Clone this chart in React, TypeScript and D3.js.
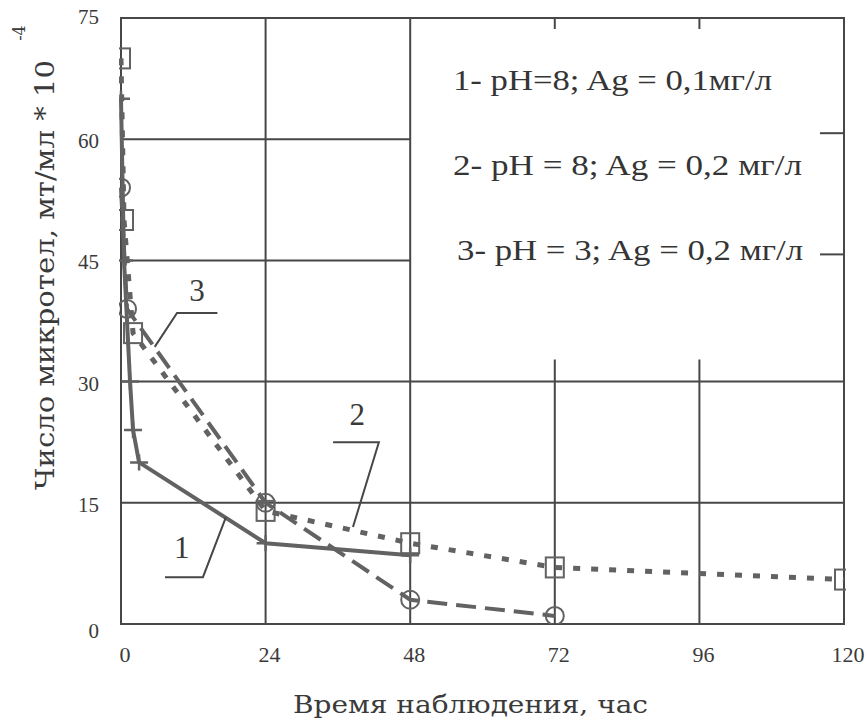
import React, { useEffect, useRef } from "react"
import * as d3 from "d3"

// часы наблюдения (ось X) и деления оси Y
const hourTicks = [0, 24, 48, 72, 96, 120]
const countTicks = [0, 15, 30, 45, 60, 75]

// [час, число микротел *10^-4]
const series1 = [[0, 65], [0.5, 45], [1.5, 30], [2, 24], [3, 20], [24, 10], [48, 8.5]]
const series2 = [[0, 70], [0.5, 50], [2, 36], [24, 14], [48, 10], [72, 7], [120, 5.5]]
const series3 = [[0, 54], [1, 39], [24, 15], [48, 3], [72, 1]]

const legendLines = ["1- pH=8; Ag = 0,1мг/л", "2- pH = 8; Ag = 0,2  мг/л", "3- pH = 3; Ag = 0,2  мг/л"]
const legendWidths = [319, 349, 346]

// подписи кривых с выносками (в координатах графика)
const curveLabels = [
    { text: "1", at: [10.1, 8.2], leader: [[7.3, 5.8], [13.6, 5.8], [17.4, 13.2]] },
    { text: "2", at: [39.2, 24.6], leader: [[35.2, 22.5], [42.8, 22.5], [38.5, 12]] },
    { text: "3", at: [12.6, 40], leader: [[16, 38.5], [9.3, 38.5], [5.6, 34.3]] },
]

const ink = "#474747"
const lineInk = "#626262"
const serif = "'Liberation Serif', 'DejaVu Serif', 'Times New Roman', serif"
const slab = "'DejaVu Serif', 'Liberation Serif', serif"

export default function App() {
    const ref = useRef<SVGSVGElement>(null)

    useEffect(() => {
        const svg = d3.select(ref.current)
        svg.selectAll("*").remove()

        const x = d3.scaleLinear().domain([0, 120]).range([121, 844])
        const y = d3.scaleLinear().domain([0, 75]).range([624, 18])

        svg.append("rect").attr("width", 867).attr("height", 726).attr("fill", "#fff")

        svg.append("defs").append("clipPath").attr("id", "plot")
            .append("rect")
            .attr("x", x(0) - 2).attr("y", y(75)).attr("width", x(120) - x(0) + 4).attr("height", y(0) - y(75))

        const grid = svg.append("g").attr("stroke", ink).attr("stroke-width", 2).attr("fill", "none")

        // рамка
        grid.append("rect")
            .attr("x", x(0)).attr("y", y(75))
            .attr("width", x(120) - x(0)).attr("height", y(0) - y(75))

        // вертикальные линии сетки
        grid.selectAll(".vfull").data([24, 48]).enter().append("line")
            .attr("x1", d => x(d)).attr("x2", d => x(d))
            .attr("y1", y(75)).attr("y2", y(0))
        grid.selectAll(".vpart").data([72, 96]).enter().append("line")
            .attr("x1", d => x(d)).attr("x2", d => x(d))
            .attr("y1", y(30) - 22).attr("y2", y(0))
        grid.selectAll(".vtop").data([72, 96]).enter().append("line")
            .attr("x1", d => x(d)).attr("x2", d => x(d))
            .attr("y1", y(75)).attr("y2", y(75) + 11)

        // горизонтальные линии сетки
        grid.selectAll(".hfull").data([15, 30]).enter().append("line")
            .attr("x1", x(0)).attr("x2", x(120))
            .attr("y1", d => y(d)).attr("y2", d => y(d))
        grid.selectAll(".hpart").data([45, 60]).enter().append("line")
            .attr("x1", x(0)).attr("x2", x(48))
            .attr("y1", d => y(d)).attr("y2", d => y(d))
        grid.selectAll(".hright").data([45, 60]).enter().append("line")
            .attr("x1", x(120) - 24).attr("x2", x(120))
            .attr("y1", d => y(d) - 6).attr("y2", d => y(d) - 6)

        // подписи делений
        svg.append("g").selectAll("text").data(hourTicks).enter().append("text")
            .attr("x", d => x(d) + 4).attr("y", 662)
            .attr("text-anchor", "middle")
            .style("font-family", serif).attr("font-size", 22).attr("fill", "#3a3a3a")
            .text(d => d)
        svg.append("g").selectAll("text").data(countTicks).enter().append("text")
            .attr("x", 99).attr("y", d => y(d) + (d === 75 ? 6 : d === 0 ? 14 : 9))
            .attr("text-anchor", "end")
            .style("font-family", serif).attr("font-size", 21).attr("fill", "#3a3a3a")
            .text(d => d)

        const line = d3.line<number[]>().x(d => x(d[0])).y(d => y(d[1]))
        const data = svg.append("g").attr("clip-path", "url(#plot)")

        data.append("path").datum(series2)
            .attr("d", line).attr("fill", "none").attr("stroke", lineInk)
            .attr("stroke-width", 5).attr("stroke-dasharray", "7,11")
        data.append("path").datum(series3)
            .attr("d", line).attr("fill", "none").attr("stroke", lineInk)
            .attr("stroke-width", 4).attr("stroke-dasharray", "20,9")
        data.append("path").datum(series1)
            .attr("d", line).attr("fill", "none").attr("stroke", lineInk)
            .attr("stroke-width", 4)

        // маркеры
        data.append("g").selectAll("rect").data(series2).enter().append("rect")
            .attr("x", d => x(d[0]) - 9).attr("y", d => y(d[1]) - 10)
            .attr("width", 18).attr("height", 20)
            .attr("fill", "none").attr("stroke", lineInk).attr("stroke-width", 2)
        data.append("g").selectAll("circle").data(series3).enter().append("circle")
            .attr("cx", d => x(d[0])).attr("cy", d => y(d[1])).attr("r", 9)
            .attr("fill", "none").attr("stroke", lineInk).attr("stroke-width", 2)
        data.append("g").selectAll("path").data(series1).enter().append("path")
            .attr("d", d => `M${x(d[0]) - 9},${y(d[1])}h18M${x(d[0])},${y(d[1]) - 8}v16`)
            .attr("stroke", lineInk).attr("stroke-width", 2.5)

        // подписи кривых
        const lab = svg.append("g")
        curveLabels.forEach(c => {
            lab.append("path").datum(c.leader)
                .attr("d", line).attr("fill", "none").attr("stroke", ink).attr("stroke-width", 2)
            lab.append("text")
                .attr("x", x(c.at[0])).attr("y", y(c.at[1]))
                .attr("text-anchor", "middle")
                .style("font-family", serif).attr("font-size", 31).attr("fill", "#3a3a3a")
                .text(c.text)
        })

        // легенда
        svg.append("g").selectAll("text").data(legendLines).enter().append("text")
            .attr("x", (d, i) => (i === 2 ? 457 : 453)).attr("y", (d, i) => 90 + i * 85)
            .attr("textLength", (d, i) => legendWidths[i])
            .attr("lengthAdjust", "spacingAndGlyphs")
            .style("font-family", serif).attr("font-size", 29).attr("fill", "#353535")
            .text(d => d)

        // подписи осей
        svg.append("text")
            .attr("x", 293).attr("y", 713)
            .attr("textLength", 355).attr("lengthAdjust", "spacingAndGlyphs")
            .style("font-family", slab).attr("font-size", 25).attr("fill", "#3a3a3a")
            .text("Время наблюдения, час")

        svg.append("text")
            .attr("transform", "translate(54,490) rotate(-90)")
            .attr("textLength", 430).attr("lengthAdjust", "spacingAndGlyphs")
            .style("font-family", slab).attr("font-size", 26).attr("fill", "#3a3a3a")
            .text("Число микротел, мт/мл * 10")
        svg.append("text")
            .attr("transform", "translate(25,33) rotate(-90)")
            .attr("text-anchor", "middle")
            .style("font-family", slab).attr("font-size", 16).attr("fill", "#3a3a3a")
            .text("-4")
    }, [])

    return <svg ref={ref} width={867} height={726} style={{ position: "absolute", left: 0, top: 0 }} />
}
